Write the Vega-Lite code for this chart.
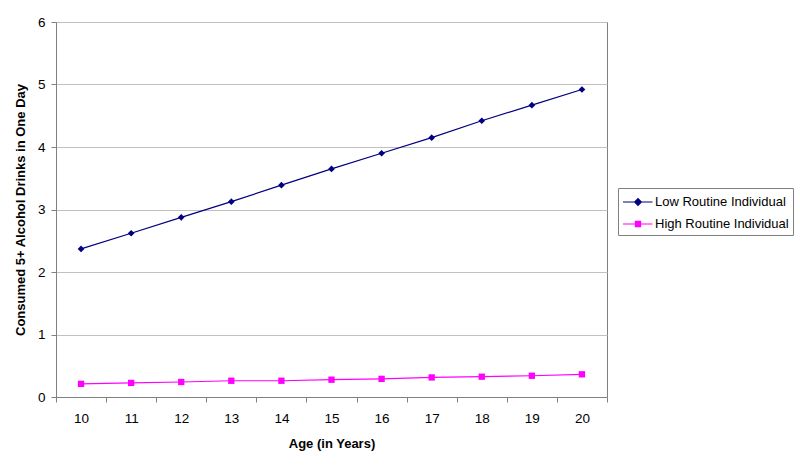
{
  "$schema": "https://vega.github.io/schema/vega-lite/v6.json",
  "autosize": {"type": "none"},
  "padding": {"left": 56, "top": 22, "right": 193, "bottom": 70},
  "width": 551,
  "height": 375,
  "background": "white",
  "config": {
    "font": "Liberation Sans",
    "view": {"stroke": "#808080", "strokeWidth": 1},
    "axis": {
      "labelFont": "Liberation Sans",
      "labelFontSize": 13.5,
      "labelColor": "#000000",
      "titleFont": "Liberation Sans",
      "titleFontSize": 13,
      "titleFontWeight": "bold",
      "titleColor": "#000000",
      "domainColor": "#808080",
      "tickColor": "#808080",
      "tickSize": 5
    },
    "legend": {
      "labelFont": "Liberation Sans",
      "labelFontSize": 13,
      "labelColor": "#000000"
    }
  },
  "data": {
    "values": [
      {"age": 10, "series": "Low Routine Individual", "value": 2.37},
      {"age": 11, "series": "Low Routine Individual", "value": 2.62},
      {"age": 12, "series": "Low Routine Individual", "value": 2.875},
      {"age": 13, "series": "Low Routine Individual", "value": 3.125},
      {"age": 14, "series": "Low Routine Individual", "value": 3.39},
      {"age": 15, "series": "Low Routine Individual", "value": 3.65},
      {"age": 16, "series": "Low Routine Individual", "value": 3.9},
      {"age": 17, "series": "Low Routine Individual", "value": 4.15},
      {"age": 18, "series": "Low Routine Individual", "value": 4.42},
      {"age": 19, "series": "Low Routine Individual", "value": 4.67},
      {"age": 20, "series": "Low Routine Individual", "value": 4.92},
      {"age": 10, "series": "High Routine Individual", "value": 0.21},
      {"age": 11, "series": "High Routine Individual", "value": 0.225},
      {"age": 12, "series": "High Routine Individual", "value": 0.24},
      {"age": 13, "series": "High Routine Individual", "value": 0.26},
      {"age": 14, "series": "High Routine Individual", "value": 0.26},
      {"age": 15, "series": "High Routine Individual", "value": 0.277},
      {"age": 16, "series": "High Routine Individual", "value": 0.29},
      {"age": 17, "series": "High Routine Individual", "value": 0.313},
      {"age": 18, "series": "High Routine Individual", "value": 0.325},
      {"age": 19, "series": "High Routine Individual", "value": 0.34},
      {"age": 20, "series": "High Routine Individual", "value": 0.363}
    ]
  },
  "encoding": {
    "x": {
      "field": "age",
      "type": "ordinal",
      "scale": {"type": "band", "paddingInner": 0, "paddingOuter": 0},
      "axis": {
        "title": "Age (in Years)",
        "labelAngle": 0,
        "grid": false,
        "tickBand": "extent",
        "labelPadding": 9,
        "titlePadding": 13
      }
    },
    "y": {
      "field": "value",
      "type": "quantitative",
      "scale": {"domain": [0, 6], "nice": false},
      "axis": {
        "title": "Consumed 5+ Alcohol Drinks in One Day",
        "values": [0, 1, 2, 3, 4, 5, 6],
        "gridColor": "#c0c0c0",
        "labelPadding": 6,
        "titlePadding": 10
      }
    },
    "color": {
      "field": "series",
      "type": "nominal",
      "scale": {
        "domain": ["Low Routine Individual", "High Routine Individual"],
        "range": ["#000080", "#FF00FF"]
      },
      "legend": {
        "title": null,
        "orient": "none",
        "legendX": 562,
        "legendY": 166,
        "strokeColor": "#808080",
        "fillColor": "white",
        "padding": 4,
        "rowPadding": 5,
        "symbolSize": 400,
        "symbolStrokeWidth": 0,
        "symbolOpacity": 1,
        "labelOffset": 13
      }
    }
  },
  "layer": [
    {
      "mark": {"type": "line", "strokeWidth": 1.2}
    },
    {
      "transform": [{"filter": "datum.series === 'Low Routine Individual'"}],
      "mark": {"type": "point", "filled": true, "opacity": 1, "size": 45, "shape": "diamond"}
    },
    {
      "transform": [{"filter": "datum.series === 'High Routine Individual'"}],
      "mark": {"type": "point", "filled": true, "opacity": 1, "size": 40, "shape": "square"}
    },
    {
      "mark": {"type": "point", "filled": true, "opacity": 0},
      "encoding": {
        "shape": {
          "field": "series",
          "type": "nominal",
          "scale": {
            "domain": ["Low Routine Individual", "High Routine Individual"],
            "range": [
              "M-0.9,-0.05L2.05,-0.05L2.05,0.05L-0.9,0.05Z M0.6,-0.42L1.02,0L0.6,0.42L0.18,0Z",
              "M-0.9,-0.05L2.05,-0.05L2.05,0.05L-0.9,0.05Z M0.28,-0.32L0.92,-0.32L0.92,0.32L0.28,0.32Z"
            ]
          },
          "legend": {
            "title": null,
            "orient": "none",
            "legendX": 562,
            "legendY": 166,
            "strokeColor": "#808080",
            "fillColor": "white",
            "padding": 4,
            "rowPadding": 5,
            "symbolSize": 400,
            "symbolStrokeWidth": 0,
            "symbolOpacity": 1,
            "labelOffset": 13
          }
        }
      }
    }
  ]
}
